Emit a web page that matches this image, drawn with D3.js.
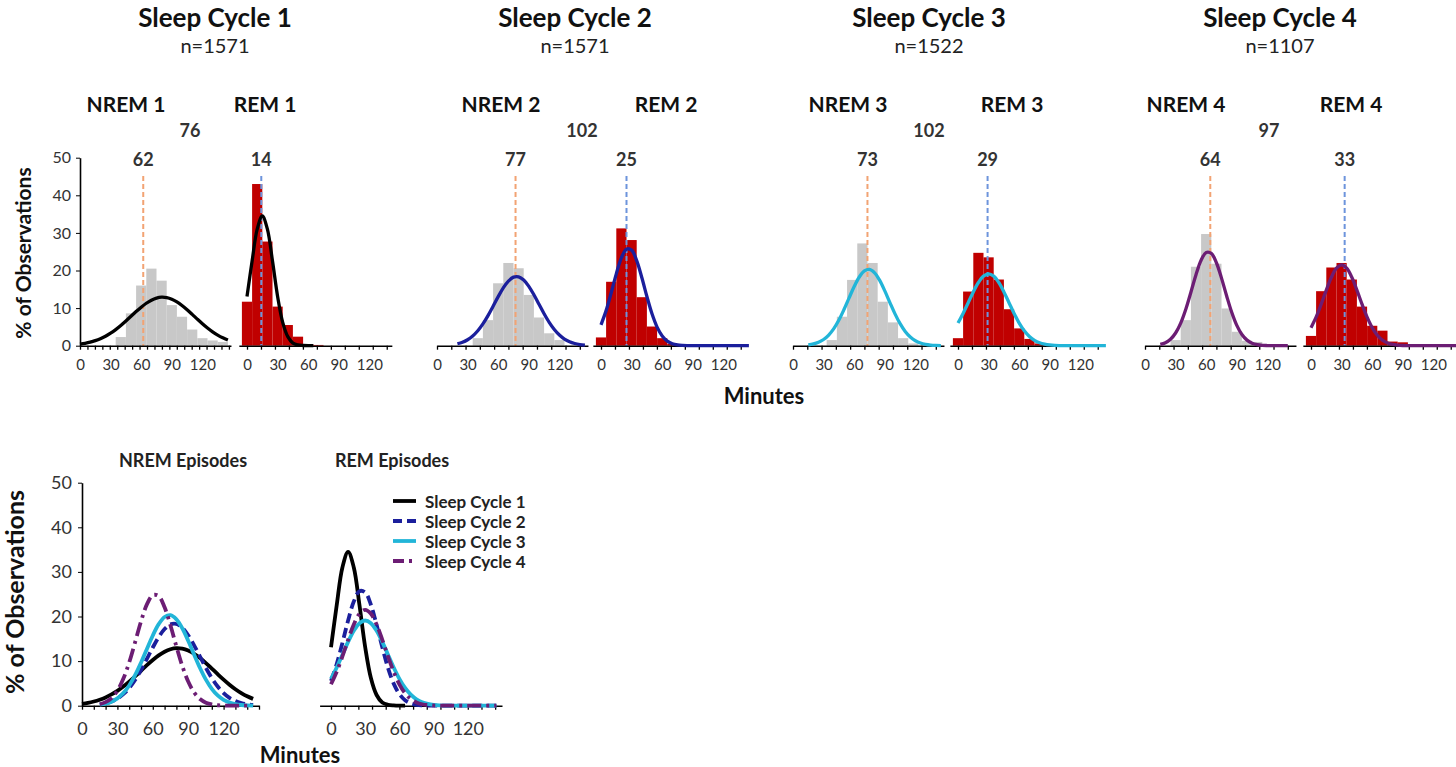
<!DOCTYPE html>
<html><head><meta charset="utf-8">
<script src="https://cdn.jsdelivr.net/npm/d3@7/dist/d3.min.js"></script>
<style>
body{margin:0;background:#fff}
svg{display:block}
text{font-family:Lato,'Open Sans',sans-serif}
</style>
</head><body>
<svg id="chart" width="1456" height="767"></svg>
<script>
// ---------------- DATA ----------------
const cycleTitles = ["Sleep Cycle 1","Sleep Cycle 2","Sleep Cycle 3","Sleep Cycle 4"];
const cycleN = [1571, 1571, 1522, 1107];
const nremLabels = ["NREM 1","NREM 2","NREM 3","NREM 4"];
const remLabels = ["REM 1","REM 2","REM 3","REM 4"];
const cycleTotals = [76, 102, 102, 97];
const nremMedians = [62, 77, 73, 64];
const remMedians = [14, 25, 29, 33];
const yTicks = [0, 10, 20, 30, 40, 50];
const xLabelTicks = [0, 30, 60, 90, 120];

// histogram bins (minutes, bin centres) and % of observations
const nremBins1 = [40,50,60,70,80,90,100,110,120,130,140];
const nremHist1 = [2.3,8.6,16,20.5,17.3,10.8,7.7,4.3,2,1.4,1];
const remBins1  = [0,10,20,30,40,50,60,70];
const remHist1  = [11.7,43,27.7,10.4,5.5,2.4,0.4,0.2];
const nremBins2 = [40,50,60,70,80,90,100,110,120];
const nremHist2 = [2,6.8,16.6,22,20.6,13.5,7.5,3.3,1.5];
const remBins2  = [0,10,20,30,40,50,60,70];
const remHist2  = [2.2,17,31.2,28.1,12.9,5.1,2,0.5];
const nremBins3 = [38,48,58,68,78,88,98,108,118];
const nremHist3 = [1.5,7.7,17.5,27.2,22,11.7,6.2,2,0.6];
const remBins3  = [0,10,20,30,40,50,60,70,80];
const remHist3  = [2,14.4,24.7,23.5,17.6,9.7,4.6,1.8,0.6];
const nremBins4 = [30,40,50,60,70,80,90,100,110];
const nremHist4 = [1.5,6.8,21,29.7,21.8,9.9,3.7,1.3,1];
const remBins4  = [0,10,20,30,40,50,60,70,80,90];
const remHist4  = [2.6,14.5,20.8,22,17.6,10.4,5.3,4,1.1,0.9];

// fitted curves, read at every 5 minutes (null = not drawn)
const curveMinutes = [0,5,10,15,20,25,30,35,40,45,50,55,60,65,70,75,80,85,90,95,100,105,110,115,120,125,130,135,140,145];
const nremFit1 = [0.42,0.64,0.94,1.34,1.86,2.52,3.33,4.29,5.38,6.57,7.82,9.08,10.25,11.29,12.11,12.66,12.9,12.79,12.37,11.65,10.69,9.56,8.33,7.07,5.85,4.71,3.7,2.83,2.11,1.53];
const remFit1  = [13.1,22.5,31.0,34.5,31.0,22.5,13.1,6.2,2.4,0.7,0.2,0.05,0,0,null,null,null,null,null,null,null,null,null,null,null,null,null,null,null,null];
const nremFit2 = [null,null,null,null,0.52,0.93,1.59,2.58,3.97,5.79,8.0,10.49,13.05,15.38,17.19,18.23,18.32,17.47,15.79,13.54,11.01,8.49,6.2,4.3,2.83,1.76,1.04,0.59,0.31,0.16];
const remFit2  = [5.56,9.33,14.08,19.11,23.36,25.68,25.41,22.63,18.13,13.08,8.48,4.95,2.6,1.23,0.52,0.2,0.07,0.02,0,0,0,0,0,0,0,0,0,0,0,0];
const nremFit3 = [null,null,null,0.22,0.46,0.91,1.65,2.83,4.54,6.83,9.63,12.72,15.75,18.28,19.88,20.3,19.37,17.36,14.57,11.47,8.46,5.85,3.79,2.3,1.31,0.7,0.35,0.16,0.07,0.03];
const remFit3  = [6.02,8.57,11.44,14.31,16.8,18.5,19.1,18.5,16.8,14.31,11.44,8.57,6.02,3.97,2.46,1.42,0.77,0.4,0.19,0.08,0.03,0,0,0,0,0,0,0,0,0];
const nremFit4 = [null,null,null,0.33,0.8,1.72,3.38,6.02,9.71,14.22,18.87,22.72,24.8,24.57,22.06,17.97,13.28,8.9,5.41,2.98,1.49,0.68,0.28,0.1,0.04,0.01,0,0,0,null];
const remFit4  = [4.8,7.59,11.04,14.78,18.2,20.62,21.5,20.62,18.2,14.78,11.04,7.59,4.8,2.79,1.49,0.74,0.33,0.14,0.05,0.02,0,0,0,0,0,0,0,0,0,0];

const nremBins = [nremBins1,nremBins2,nremBins3,nremBins4];
const nremHists = [nremHist1,nremHist2,nremHist3,nremHist4];
const remBins = [remBins1,remBins2,remBins3,remBins4];
const remHists = [remHist1,remHist2,remHist3,remHist4];
const nremFits = [nremFit1,nremFit2,nremFit3,nremFit4];
const remFits = [remFit1,remFit2,remFit3,remFit4];

// ---------------- STYLE / LAYOUT ----------------
const cycleColors = ["#000000","#1b1f9c","#22b5d8","#6c1d74"];
const cycleDash = [null,"10,5","","14,5,3,5"];
const nremX0 = [80,437,793,1145];
const remX0 = [247,601,958,1311];
const titleX = [215,575,929,1280];
const nremLabelX = [126,501,848,1186];
const remLabelX = [265,666,1012,1351];
const totalX = [190,582,929,1269];
const pxPerMin = 1.02;
const labelCol = "#333";
const FF = "Lato, 'Open Sans', sans-serif";

const svg = d3.select("#chart");
const topY = d3.scaleLinear().domain([0,50]).range([345.7,157.7]);

const lineGen = (x,y) => d3.line()
  .defined(d => d.v !== null)
  .x(d => x(d.m)).y(d => y(d.v))
  .curve(d3.curveCatmullRom.alpha(0.5));

function addText(g, x, y, txt, size, weight, fill, anchor) {
  return g.append("text").attr("x",x).attr("y",y).attr("text-anchor",anchor || "middle")
    .attr("dominant-baseline","central").attr("font-size",size).attr("font-weight",weight)
    .attr("fill",fill).text(txt);
}

function drawXAxis(g, x, tickVals, pad, fontSize, yPos) {
  const ax = g.append("g").attr("transform", `translate(0,${yPos})`)
    .call(d3.axisBottom(x).tickValues(tickVals).tickSize(4).tickSizeOuter(0).tickFormat(""));
  ax.select(".domain").attr("stroke","#000").attr("stroke-width",1.6);
  ax.selectAll(".tick line").attr("stroke","#000").attr("stroke-width",1.3);
  const lab = g.append("g").attr("transform", `translate(0,${yPos})`)
    .call(d3.axisBottom(x).tickValues(xLabelTicks).tickSize(0).tickPadding(pad));
  lab.select(".domain").remove();
  lab.selectAll("text").attr("font-size",fontSize).attr("fill",labelCol).attr("font-family",FF);
}

for (let i = 0; i < 4; i++) {
  const g = svg.append("g");
  const xN = d3.scaleLinear().domain([0,148]).range([nremX0[i], nremX0[i] + 148*pxPerMin]);
  const xR = d3.scaleLinear().domain([-8,142]).range([remX0[i] - 8*pxPerMin, remX0[i] + 142*pxPerMin]);
  const bw = 10*pxPerMin;

  g.append("text").attr("x",titleX[i]).attr("y",27).attr("text-anchor","middle")
    .attr("font-size",26).attr("font-weight",700).attr("fill","#111").text(cycleTitles[i]);
  addText(g, titleX[i], 45, "n=" + cycleN[i], 20, 400, "#222");
  addText(g, nremLabelX[i], 103, nremLabels[i], 21, 700, "#111");
  addText(g, remLabelX[i], 103, remLabels[i], 21, 700, "#111");
  addText(g, totalX[i], 130, cycleTotals[i], 18, 700, "#333");
  addText(g, xN(nremMedians[i]), 159, nremMedians[i], 18, 700, "#333");
  addText(g, xR(remMedians[i]), 159, remMedians[i], 18, 700, "#333");

  // bars
  g.append("g").selectAll("rect").data(nremBins[i].map((b,j)=>({b, v:nremHists[i][j]}))).join("rect")
    .attr("x", d => xN(d.b) - bw/2).attr("width", bw)
    .attr("y", d => topY(d.v)).attr("height", d => topY(0) - topY(d.v))
    .attr("fill","#c8c8c8");
  g.append("g").selectAll("rect").data(remBins[i].map((b,j)=>({b, v:remHists[i][j]}))).join("rect")
    .attr("x", d => xR(d.b) - bw/2).attr("width", bw)
    .attr("y", d => topY(d.v)).attr("height", d => topY(0) - topY(d.v))
    .attr("fill","#c00000");

  // median dashed lines
  g.append("line").attr("x1",xN(nremMedians[i])).attr("x2",xN(nremMedians[i]))
    .attr("y1",176).attr("y2",topY(0)).attr("stroke","#f2a373").attr("stroke-width",2).attr("stroke-dasharray","5,3");
  g.append("line").attr("x1",xR(remMedians[i])).attr("x2",xR(remMedians[i]))
    .attr("y1",176).attr("y2",topY(0)).attr("stroke","#6d94dc").attr("stroke-width",2).attr("stroke-dasharray","5,3");

  // axes
  const nStep = i === 0 ? 7.3 : 14;
  drawXAxis(g, xN, d3.range(0,148.5,nStep), 14, 15, topY(0));
  drawXAxis(g, xR, d3.range(0,142,13.7), 14, 15, topY(0));

  // fitted curves
  g.append("path").datum(curveMinutes.map((m,j)=>({m, v:nremFits[i][j]})))
    .attr("d", lineGen(xN, topY)).attr("fill","none").attr("stroke",cycleColors[i]).attr("stroke-width",3.3);
  g.append("path").datum(curveMinutes.map((m,j)=>({m, v:remFits[i][j]})))
    .attr("d", lineGen(xR, topY)).attr("fill","none").attr("stroke",cycleColors[i]).attr("stroke-width",3.3);

  if (i === 0) {
    const ya = g.append("g").attr("transform",`translate(${nremX0[0]},0)`)
      .call(d3.axisLeft(topY).tickValues(yTicks).tickSize(4).tickSizeOuter(0).tickPadding(5));
    ya.select(".domain").attr("stroke","#000").attr("stroke-width",1.6);
    ya.selectAll(".tick line").attr("stroke","#000");
    ya.selectAll("text").attr("font-size",16).attr("fill",labelCol).attr("font-family",FF);
    g.append("text").attr("transform","translate(22,253) rotate(-90)").attr("text-anchor","middle").attr("dominant-baseline","central")
      .attr("font-size",21).attr("font-weight",700).attr("fill","#111").text("% of Observations");
  }
}
addText(svg, 764, 395, "Minutes", 22, 700, "#111");

// ---------------- BOTTOM PANEL ----------------
const bY = d3.scaleLinear().domain([0,50]).range([705.7,482.7]);
const bXN = d3.scaleLinear().domain([0,150]).range([82, 82 + 150*1.18]);
const bXR = d3.scaleLinear().domain([-10,150]).range([331 - 10*1.14, 331 + 150*1.14]);
const bg = svg.append("g");

addText(bg, 183, 460, "NREM Episodes", 18, 700, "#222");
addText(bg, 392, 460, "REM Episodes", 18, 700, "#222");

drawXAxis(bg, bXN, d3.range(0,151,10), 17, 18, bY(0));
drawXAxis(bg, bXR, d3.range(0,151,12), 17, 18, bY(0));

const bya = bg.append("g").attr("transform",`translate(${bXN(0)},0)`)
  .call(d3.axisLeft(bY).tickValues(yTicks).tickSize(4).tickSizeOuter(0).tickPadding(6));
bya.select(".domain").attr("stroke","#000").attr("stroke-width",1.6);
bya.selectAll(".tick line").attr("stroke","#000");
bya.selectAll("text").attr("font-size",18).attr("fill",labelCol).attr("font-family",FF);
bg.append("text").attr("transform","translate(14,592) rotate(-90)").attr("text-anchor","middle").attr("dominant-baseline","central")
  .attr("font-size",25).attr("font-weight",700).attr("fill","#111").text("% of Observations");
addText(bg, 300, 754, "Minutes", 22, 700, "#111");

for (let i = 0; i < 4; i++) {
  bg.append("path").datum(curveMinutes.map((m,j)=>({m, v:nremFits[i][j]})))
    .attr("d", lineGen(bXN, bY)).attr("fill","none").attr("stroke",cycleColors[i]).attr("stroke-width",3.8)
    .attr("stroke-dasharray", cycleDash[i] || null);
  bg.append("path").datum(curveMinutes.map((m,j)=>({m, v:remFits[i][j]})))
    .attr("d", lineGen(bXR, bY)).attr("fill","none").attr("stroke",cycleColors[i]).attr("stroke-width",3.8)
    .attr("stroke-dasharray", cycleDash[i] || null);
}

// legend
const lg = bg.append("g");
const legendDash = [null,"9,5","","11,5,3,5"];
cycleTitles.forEach((t,i) => {
  const yy = 501 + i*20;
  lg.append("line").attr("x1",393).attr("x2",416).attr("y1",yy).attr("y2",yy)
    .attr("stroke",cycleColors[i]).attr("stroke-width",3.8).attr("stroke-dasharray",legendDash[i] || null);
  addText(lg, 425, yy, t, 17, 700, "#222", "start");
});
</script>
</body></html>
